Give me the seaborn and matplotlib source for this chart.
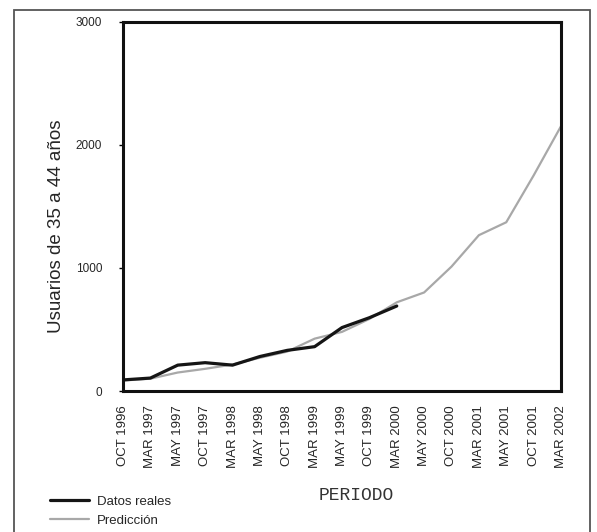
import seaborn as sns
import matplotlib.pyplot as plt
from matplotlib.patches import Rectangle
import pandas as pd

sns.set_style("ticks")
plt.rcParams['font.family'] = ['Liberation Sans', 'DejaVu Sans']

#### data
periodos = ['OCT 1996', 'MAR 1997', 'MAY 1997', 'OCT 1997', 'MAR 1998', 'MAY 1998',
            'OCT 1998', 'MAR 1999', 'MAY 1999', 'OCT 1999', 'MAR 2000', 'MAY 2000',
            'OCT 2000', 'MAR 2001', 'MAY 2001', 'OCT 2001', 'MAR 2002']
reales = [90, 105, 210, 230, 210, 280, 330, 360, 515, 595, 690]
prediccion = [85, 100, 150, 180, 215, 270, 320, 425, 480, 585, 720, 800,
              1010, 1265, 1370, 1750, 2150]
yticks = [0, 1000, 2000, 3000]

df_real = pd.DataFrame({'idx': range(len(reales)), 'val': reales, 'serie': 'Datos reales'})
df_pred = pd.DataFrame({'idx': range(len(prediccion)), 'val': prediccion, 'serie': 'Predicción'})

fig = plt.figure(figsize=(5.97, 5.32), dpi=100)
ax = fig.add_axes([123/597, 1 - 391/532, (561 - 123)/597, (391 - 21.5)/532])

sns.lineplot(data=df_pred, x='idx', y='val', color='#a8a8a8', linewidth=1.6, ax=ax,
             label='Predicción', legend=False)
sns.lineplot(data=df_real, x='idx', y='val', color='#151515', linewidth=2.3, ax=ax,
             label='Datos reales', legend=False)

ax.set_xlim(0, len(periodos) - 1)
ax.set_ylim(0, 3000)
ax.set_yticks(yticks)
ax.set_yticklabels([str(v) for v in yticks], fontsize=8.5)
ax.set_xticks(range(len(periodos)))
ax.set_xticklabels(periodos, rotation=90, fontsize=9.5)
ax.tick_params(axis='x', length=0, pad=10)
ax.tick_params(axis='y', length=3, width=1, pad=12, color='black')
ax.set_xlabel('')
ax.set_ylabel('Usuarios de 35 a 44 años', fontsize=13.5)
ax.yaxis.set_label_coords(57/597, 1 - 226/532, transform=fig.transFigure)
ax.yaxis.label.set_va('center')
for sp in ax.spines.values():
    sp.set_linewidth(2.2)
    sp.set_color('#111111')

fig.text(356/597, 1 - 495/532, 'PERIODO', ha='center', va='center', fontsize=13,
         family='Liberation Mono', color='#333333')

# legend in lower left corner
handles, labels = ax.get_legend_handles_labels()
order = [labels.index('Datos reales'), labels.index('Predicción')]
fig.legend([handles[i] for i in order], [labels[i] for i in order],
           loc='upper left', bbox_to_anchor=(38/597, 1 - 484/532), frameon=False,
           fontsize=9.5, handlelength=3.0, handletextpad=0.6, labelspacing=0.5)

# outer frame
fig.patches.append(Rectangle((14/597, -0.05), (590 - 14)/597, 1 - 10/532 + 0.05,
                             transform=fig.transFigure, fill=False,
                             edgecolor='#555555', linewidth=1.3))

fig.savefig('out.png', dpi=100)
